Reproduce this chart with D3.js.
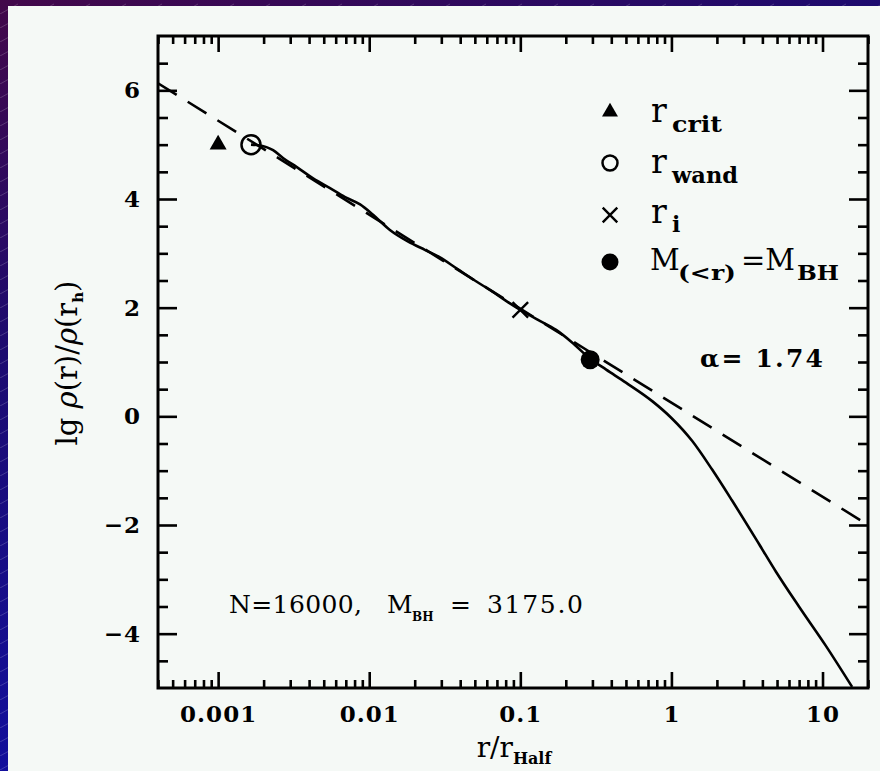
<!DOCTYPE html>
<html><head><meta charset="utf-8">
<script src="https://cdn.jsdelivr.net/npm/d3@7"></script>
<style>
html,body{margin:0;padding:0;background:#1a0b70;}
svg{display:block;}
</style></head>
<body>
<svg id="chart" width="880" height="771"></svg>
<script>
// ---- data ----
const xDomain = [0.0004, 20];
const yDomain = [-5, 7];
const xTickValues = [0.001, 0.01, 0.1, 1, 10];
const xTickLabels = ["0.001", "0.01", "0.1", "1", "10"];
const yTickValues = [-4, -2, 0, 2, 4, 6];
const yTickLabels = ["\u22124", "\u22122", "0", "2", "4", "6"];

// measured density profile (solid)
const profileR  = [0.00165, 0.00184, 0.00231, 0.0027, 0.0033, 0.00425, 0.00575, 0.0071, 0.0087, 0.0106, 0.0137, 0.018, 0.0235, 0.0292, 0.038, 0.05, 0.065, 0.08, 0.1, 0.13, 0.1726, 0.22, 0.29, 0.37, 0.5, 0.746, 1.0, 1.37, 1.86, 2.52, 3.8, 4.92, 6.98, 10.5, 15.7];
const profileLg = [5.0, 4.99, 4.90, 4.75, 4.59, 4.38, 4.17, 4.02, 3.90, 3.71, 3.43, 3.22, 3.06, 2.93, 2.72, 2.50, 2.30, 2.13, 1.96, 1.78, 1.59, 1.36, 1.06, 0.86, 0.62, 0.28, -0.03, -0.45, -0.98, -1.55, -2.35, -2.86, -3.50, -4.22, -4.98];

// power-law fit (dashed), alpha = 1.74
const fitR  = [0.0004, 20];
const fitLg = [6.13, -2.0];

// special radii
const markerKeys = ["crit", "wand", "i", "bh"];
const markerR  = [0.001, 0.00165, 0.1, 0.29];
const markerLg = [5.0, 5.0, 1.96, 1.04];

// ---- drawing ----
const svg = d3.select("#chart");
const W = 880, H = 771;
const M = {left: 158, top: 36, right: 868, bottom: 688};

const defs = svg.append("defs");
const grad = defs.append("linearGradient").attr("id", "bg")
  .attr("gradientUnits", "userSpaceOnUse")
  .attr("x1", 0).attr("y1", 0).attr("x2", 300).attr("y2", 771);
grad.append("stop").attr("offset", 0).attr("stop-color", "#43084a");
grad.append("stop").attr("offset", 0.4).attr("stop-color", "#1c0b70");
grad.append("stop").attr("offset", 1).attr("stop-color", "#1010a8");
const pat = defs.append("pattern").attr("id", "hatch")
  .attr("patternUnits", "userSpaceOnUse").attr("width", 36).attr("height", 14);
pat.append("line").attr("x1", 0).attr("y1", 14).attr("x2", 18).attr("y2", 4)
  .attr("stroke", "#ffffff").attr("stroke-opacity", 0.18).attr("stroke-width", 1);

svg.append("rect").attr("width", W).attr("height", H).attr("fill", "url(#bg)");
svg.append("rect").attr("width", W).attr("height", H).attr("fill", "url(#hatch)");
svg.append("rect").attr("x", 8).attr("y", 6).attr("width", W - 8).attr("height", H - 6).attr("fill", "#f5f9f6");

const x = d3.scaleLog().domain(xDomain).range([M.left, M.right]);
const y = d3.scaleLinear().domain(yDomain).range([M.bottom, M.top]);

// minor tick values
const xMinor = [];
[0.0001, 0.001, 0.01, 0.1, 1, 10].forEach(d => { for (let k = 2; k <= 9; k++) { const v = d * k; if (v >= xDomain[0] && v <= xDomain[1]) xMinor.push(v); } });
const yMinor = d3.range(-4.5, 7, 0.5).filter(v => yTickValues.indexOf(v) < 0);

const serif = "'DejaVu Serif', serif";
function styleAxis(g) {
  g.select(".domain").remove();
  g.selectAll(".tick line").attr("stroke", "#000").attr("stroke-width", 2.6);
  g.selectAll("text").attr("fill", "#000").attr("font-family", serif)
    .attr("font-weight", "bold").attr("font-size", 23).attr("letter-spacing", 1);
}

// bottom
svg.append("g").attr("transform", `translate(0,${M.bottom})`)
  .call(d3.axisBottom(x).tickValues(xTickValues).tickFormat((d, i) => xTickLabels[i]).tickSizeInner(-16).tickSizeOuter(0).tickPadding(18))
  .call(styleAxis);
svg.append("g").attr("transform", `translate(0,${M.bottom})`)
  .call(d3.axisBottom(x).tickValues(xMinor).tickFormat("").tickSizeInner(-8).tickSizeOuter(0))
  .call(styleAxis);
// top
svg.append("g").attr("transform", `translate(0,${M.top})`)
  .call(d3.axisTop(x).tickValues(xTickValues).tickFormat("").tickSizeInner(-16).tickSizeOuter(0))
  .call(styleAxis);
svg.append("g").attr("transform", `translate(0,${M.top})`)
  .call(d3.axisTop(x).tickValues(xMinor).tickFormat("").tickSizeInner(-8).tickSizeOuter(0))
  .call(styleAxis);
// left
svg.append("g").attr("transform", `translate(${M.left},0)`)
  .call(d3.axisLeft(y).tickValues(yTickValues).tickFormat((d, i) => yTickLabels[i]).tickSizeInner(-19).tickSizeOuter(0).tickPadding(17))
  .call(styleAxis);
svg.append("g").attr("transform", `translate(${M.left},0)`)
  .call(d3.axisLeft(y).tickValues(yMinor).tickFormat("").tickSizeInner(-10).tickSizeOuter(0))
  .call(styleAxis);
// right
svg.append("g").attr("transform", `translate(${M.right},0)`)
  .call(d3.axisRight(y).tickValues(yTickValues).tickFormat("").tickSizeInner(-19).tickSizeOuter(0))
  .call(styleAxis);
svg.append("g").attr("transform", `translate(${M.right},0)`)
  .call(d3.axisRight(y).tickValues(yMinor).tickFormat("").tickSizeInner(-10).tickSizeOuter(0))
  .call(styleAxis);

// clip
defs.append("clipPath").attr("id", "plotclip").append("rect")
  .attr("x", M.left).attr("y", M.top).attr("width", M.right - M.left).attr("height", M.bottom - M.top);
const plot = svg.append("g").attr("clip-path", "url(#plotclip)");

const line = d3.line().x(d => x(d[0])).y(d => y(d[1]));
plot.append("path").datum(fitR.map((r, i) => [r, fitLg[i]]))
  .attr("d", line).attr("fill", "none").attr("stroke", "#000")
  .attr("stroke-width", 2.6).attr("stroke-dasharray", "22,13");
plot.append("path").datum(profileR.map((r, i) => [r, profileLg[i]]))
  .attr("d", d3.line().x(d => x(d[0])).y(d => y(d[1])).curve(d3.curveMonotoneX))
  .attr("fill", "none").attr("stroke", "#000").attr("stroke-width", 2.6);

// markers
function drawMarker(g, key, cx, cy, legend) {
  if (key === "crit") {
    g.append("path").attr("d", d3.symbol(d3.symbolTriangle).size(legend ? 110 : 125)())
      .attr("transform", `translate(${cx},${cy})`).attr("fill", "#000");
  } else if (key === "wand") {
    g.append("circle").attr("cx", cx).attr("cy", cy).attr("r", legend ? 7.5 : 9.5)
      .attr("fill", "none").attr("stroke", "#000").attr("stroke-width", 2.5);
  } else if (key === "i") {
    g.append("path").attr("d", d3.symbol(d3.symbolTimes).size(legend ? 140 : 160)())
      .attr("transform", `translate(${cx},${cy})`).attr("fill", "none").attr("stroke", "#000").attr("stroke-width", 2.4);
  } else {
    g.append("circle").attr("cx", cx).attr("cy", cy).attr("r", legend ? 8.5 : 9.5).attr("fill", "#000");
  }
}
const mg = svg.append("g");
markerKeys.forEach((k, i) => drawMarker(mg, k, x(markerR[i]), y(markerLg[i]), false));

// legend
const legX = 610, legRows = [112, 163, 215, 262];
const lg = svg.append("g");
markerKeys.forEach((k, i) => drawMarker(lg, k, legX, legRows[i], true));
function legText(xx, yy, txt, size, bold, len) {
  const t = lg.append("text").attr("x", xx).attr("y", yy).attr("font-family", serif).attr("fill", "#000")
    .attr("font-size", size).attr("font-weight", bold ? "bold" : "normal").text(txt);
  if (len) t.attr("textLength", len).attr("lengthAdjust", "spacingAndGlyphs");
}
legText(651, 122, "r", 33); legText(672, 132, "crit", 22, true, 50);
legText(651, 173, "r", 33); legText(672, 183, "wand", 22, true, 66);
legText(651, 223, "r", 33); legText(672, 232, "i", 22, true);
legText(650, 270, "M", 29); legText(678, 280, "(<r)", 21, true, 58);
legText(741, 270, "=M", 29); legText(797, 280, "BH", 21, true, 42);

// annotations
svg.append("text").attr("x", 700).attr("y", 367).attr("font-family", serif)
  .attr("font-weight", "bold").attr("font-size", 25).attr("fill", "#000")
  .attr("textLength", 123).attr("lengthAdjust", "spacing")
  .text("\u03b1= 1.74");

function ann(xx, yy, txt, size, len, bold) {
  const t = svg.append("text").attr("x", xx).attr("y", yy).attr("font-family", serif)
    .attr("font-size", size).attr("fill", "#000").text(txt);
  if (bold) t.attr("font-weight", "bold");
  if (len) t.attr("textLength", len).attr("lengthAdjust", "spacing");
}
ann(229, 613, "N=16000,", 25, 133);
ann(387, 613, "M", 25, 0);
ann(412, 621, "BH", 12, 0, true);
ann(450, 613, "=", 25, 0);
ann(487, 613, "3175.0", 25, 96);

// axis titles
const xt = svg.append("text").attr("x", 514).attr("y", 757).attr("text-anchor", "middle")
  .attr("font-family", serif).attr("font-size", 28).attr("fill", "#000");
xt.append("tspan").text("r/r");
xt.append("tspan").text("Half").attr("font-size", 16).attr("font-weight", "bold").attr("dy", 7);

const yt = svg.append("text").attr("transform", "translate(77,363) rotate(-90)").attr("text-anchor", "middle")
  .attr("font-family", serif).attr("font-size", 29).attr("fill", "#000");
yt.append("tspan").text("lg ");
yt.append("tspan").text("\u03c1").attr("font-style", "italic");
yt.append("tspan").text("(r)/");
yt.append("tspan").text("\u03c1").attr("font-style", "italic");
yt.append("tspan").text("(r");
yt.append("tspan").text("h").attr("font-size", 15).attr("font-weight", "bold").attr("dy", 6);
yt.append("tspan").text(")").attr("dy", -6);

// frame
svg.append("rect").attr("x", M.left).attr("y", M.top).attr("width", M.right - M.left).attr("height", M.bottom - M.top)
  .attr("fill", "none").attr("stroke", "#000").attr("stroke-width", 3);
</script>
</body></html>
